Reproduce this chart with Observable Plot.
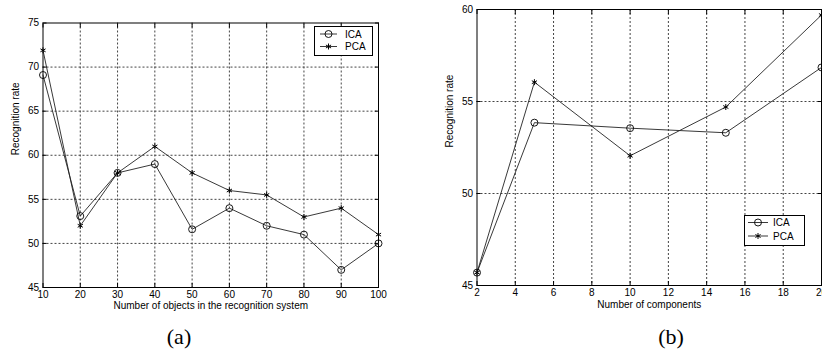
<!DOCTYPE html>
<html><head><meta charset="utf-8">
<script src="https://cdn.jsdelivr.net/npm/d3@7"></script>
<script src="https://cdn.jsdelivr.net/npm/@observablehq/plot@0.6"></script>
<style>
html,body{margin:0;padding:0;background:#fff;overflow:hidden;}
#wrap{position:relative;width:822px;height:351px;overflow:hidden;}
.panel{position:absolute;top:0;}
.cap{position:absolute;font-family:"Liberation Serif","Times New Roman",serif;font-size:22px;color:#000;transform:translate(-50%,-50%);line-height:1;}
</style></head><body>
<div id="wrap">
  <div class="panel" id="pa" style="left:0"></div>
  <div class="panel" id="pb" style="left:410px"></div>
  <div class="cap" style="left:179px;top:337px">(a)</div>
  <div class="cap" style="left:671px;top:337px">(b)</div>
</div>
<script>
// ---- data ----
const seriesNames = ["ICA", "PCA"];
const objects = [10, 20, 30, 40, 50, 60, 70, 80, 90, 100];
const icaA = [69.1, 53.1, 58, 59, 51.6, 54, 52, 51, 47, 50];
const pcaA = [71.9, 52, 58, 61, 58, 56, 55.5, 53, 54, 51];
const components = [2, 5, 10, 15, 20];
const icaB = [45.7, 53.85, 53.55, 53.3, 56.85];
const pcaB = [45.7, 56.05, 52.05, 54.7, 59.7];
const xTicksA = [10, 20, 30, 40, 50, 60, 70, 80, 90, 100];
const yTicksA = [45, 50, 55, 60, 65, 70, 75];
const xTicksB = [2, 4, 6, 8, 10, 12, 14, 16, 18, 20];
const yTicksB = [45, 50, 55, 60];
const yLabel = "Recognition rate";
const xLabelA = "Number of objects in the recognition system";
const xLabelB = "Number of components";

const FONT = '"Liberation Sans", Arial, Helvetica, sans-serif';

function panel(o) {
  const rows = [];
  o.xs.forEach((x, i) => rows.push({x, y: o.ica[i], s: seriesNames[0]}));
  o.xs.forEach((x, i) => rows.push({x, y: o.pca[i], s: seriesNames[1]}));
  const innerX = o.xTicks.filter(t => t !== o.xDomain[0] && t !== o.xDomain[1]);
  const innerY = o.yTicks.filter(t => t !== o.yDomain[0] && t !== o.yDomain[1]);
  const blank = () => "";
  const svg = Plot.plot({
    width: o.width, height: 351,
    marginLeft: o.m[0], marginRight: o.m[1], marginTop: o.m[2], marginBottom: o.m[3],
    style: {fontFamily: FONT, fontSize: "10px", color: "#000", background: "transparent", overflow: "visible"},
    x: {type: "linear", domain: o.xDomain},
    y: {type: "linear", domain: o.yDomain},
    marks: [
      Plot.ruleX(innerX, {stroke: "#444", strokeDasharray: "2,2", strokeWidth: 1}),
      Plot.ruleY(innerY, {stroke: "#444", strokeDasharray: "2,2", strokeWidth: 1}),
      Plot.axisX({ticks: o.xTicks, tickSize: -4, tickFormat: blank, label: null, stroke: "#000"}),
      Plot.axisX({anchor: "top", ticks: o.xTicks, tickSize: -4, tickFormat: blank, label: null, stroke: "#000"}),
      Plot.axisY({ticks: o.yTicks, tickSize: -4, tickFormat: blank, label: null, stroke: "#000"}),
      Plot.axisY({anchor: "right", ticks: o.yTicks, tickSize: -4, tickFormat: blank, label: null, stroke: "#000"}),
      Plot.axisX({ticks: o.xTicks, tickSize: 0, tickPadding: 3, label: null, fill: "#000"}),
      Plot.axisY({ticks: o.yTicks, tickSize: 0, tickPadding: 4, label: null, fill: "#000"}),
      Plot.frame({stroke: "#000", strokeWidth: 1}),
      Plot.line(rows, {x: "x", y: "y", z: "s", stroke: "#222", strokeWidth: 0.9}),
      Plot.dot(rows.filter(d => d.s === "ICA"), {x: "x", y: "y", symbol: "circle", r: 3.5, stroke: "#000", fill: "none", strokeWidth: 0.9}),
      Plot.dot(rows.filter(d => d.s === "PCA"), {x: "x", y: "y", symbol: "asterisk", r: 2.8, stroke: "#000", strokeWidth: 1}),
      Plot.text([yLabel], {text: d => d, frameAnchor: "left", rotate: -90, dx: -27, fill: "#000", fontSize: 10}),
      Plot.text([o.xLabel], {text: d => d, frameAnchor: "bottom", dy: o.xLabelDy, fill: "#000", fontSize: 10})
    ]
  });
  // legend
  const L = o.legend;
  const g = d3.select(svg).append("g").attr("font-family", FONT).attr("font-size", 10).attr("text-anchor", "start");
  g.append("rect").attr("x", L.x + 0.5).attr("y", L.y + 0.5).attr("width", L.w).attr("height", L.h)
    .attr("fill", "#fff").attr("stroke", "#000");
  seriesNames.forEach((name, i) => {
    const cy = L.rows[i];
    g.append("line").attr("x1", L.lx1).attr("x2", L.lx2).attr("y1", cy).attr("y2", cy).attr("stroke", "#222").attr("stroke-width", 0.9);
    const mx = (L.lx1 + L.lx2) / 2;
    if (name === "ICA") {
      g.append("circle").attr("cx", mx).attr("cy", cy).attr("r", 3.5).attr("fill", "none").attr("stroke", "#000").attr("stroke-width", 0.9);
    } else {
      g.append("path").attr("d", d3.symbol(d3.symbolAsterisk, 2.8 * 2.8 * Math.PI)()).attr("transform", `translate(${mx},${cy})`).attr("stroke", "#000").attr("fill", "none");
    }
    g.append("text").attr("x", L.tx).attr("y", cy).attr("dy", "0.35em").attr("text-anchor", "start").attr("fill", "#000").text(name);
  });
  return svg;
}

document.getElementById("pa").appendChild(panel({
  xs: objects, ica: icaA, pca: pcaA, xDomain: [10, 100], yDomain: [45, 75],
  xTicks: xTicksA, yTicks: yTicksA, xLabel: xLabelA, xLabelDy: 21, width: 410,
  m: [42.5, 32, 22.5, 64],
  legend: {x: 314, y: 26, w: 58, h: 29, lx1: 320, lx2: 337, tx: 345, rows: [34, 46.5]}
}));
document.getElementById("pb").appendChild(panel({
  xs: components, ica: icaB, pca: pcaB, xDomain: [2, 20], yDomain: [45, 60],
  xTicks: xTicksB, yTicks: yTicksB, xLabel: xLabelB, xLabelDy: 22, width: 412,
  m: [66.5, 1, 9, 66],
  legend: {x: 334, y: 215, w: 60, h: 30, lx1: 338, lx2: 358, tx: 363, rows: [222.5, 236]}
}));
</script>
</body></html>
